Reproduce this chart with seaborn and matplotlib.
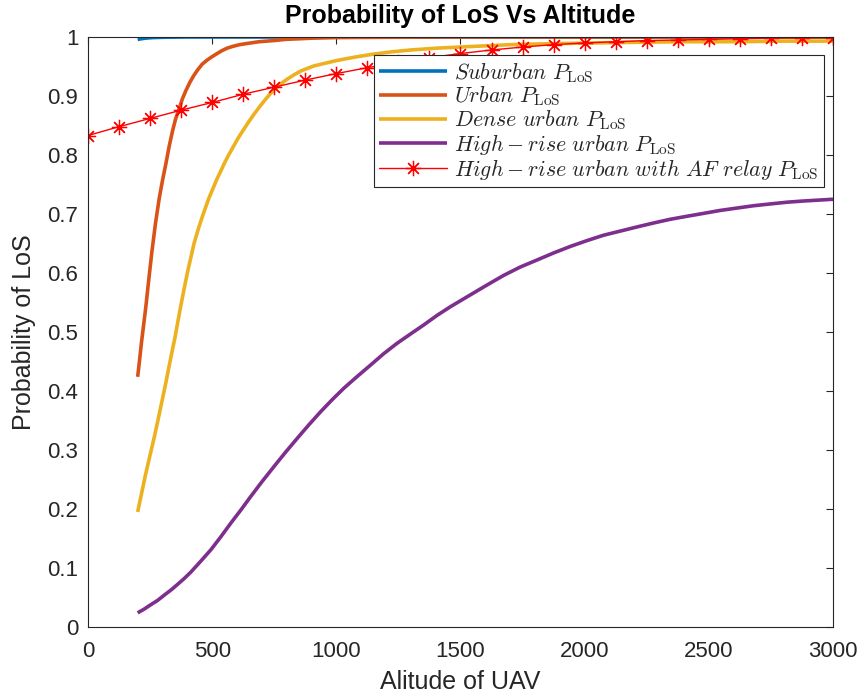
import numpy as np
import pandas as pd
import matplotlib
matplotlib.use("Agg")
import matplotlib.pyplot as plt
import seaborn as sns

# ---- data: altitude (m) vs probability of line-of-sight ----
suburban_alt = [200, 215, 230, 260, 300, 350, 400, 600, 1000, 3000]
suburban_p = [0.996, 0.997, 0.998, 0.999, 0.9995, 0.9998, 1.0, 1.0, 1.0, 1.0]

urban_alt = [200, 207, 215, 224, 233, 245, 257, 272, 287, 300, 314, 327, 340,
             352, 365, 380, 394, 410, 425, 441, 460, 480, 501, 520, 540, 560,
             582, 610, 640, 689, 750, 796, 850, 900, 1000, 1200, 1500, 3000]
urban_p = [0.424, 0.450, 0.481, 0.512, 0.543, 0.590, 0.635, 0.685, 0.727, 0.757,
           0.786, 0.815, 0.840, 0.860, 0.876, 0.895, 0.909, 0.923, 0.934, 0.944,
           0.954, 0.961, 0.967, 0.972, 0.977, 0.981, 0.984, 0.987, 0.989, 0.992,
           0.994, 0.996, 0.997, 0.998, 0.999, 0.9995, 1.0, 1.0]

dense_alt = [200, 215, 230, 248, 267, 283, 300, 314, 327, 340, 350, 362, 374,
             387, 400, 414, 427, 443, 460, 475, 488, 505, 520, 535, 548, 565,
             585, 605, 622, 645, 670, 695, 716, 747, 775, 800, 830, 860, 910,
             960, 1000, 1075, 1150, 1225, 1300, 1400, 1500, 1600, 1700, 1800,
             1900, 2050, 2200, 2400, 2600, 2800, 3000]
dense_p = [0.195, 0.225, 0.255, 0.288, 0.322, 0.353, 0.387, 0.415, 0.443, 0.470,
           0.490, 0.518, 0.545, 0.573, 0.600, 0.626, 0.650, 0.673, 0.695, 0.713,
           0.728, 0.745, 0.760, 0.773, 0.785, 0.799, 0.814, 0.829, 0.840, 0.855,
           0.870, 0.884, 0.895, 0.910, 0.920, 0.928, 0.936, 0.943, 0.951, 0.956,
           0.960, 0.966, 0.971, 0.975, 0.978, 0.981, 0.983, 0.985, 0.987, 0.988,
           0.989, 0.990, 0.991, 0.992, 0.992, 0.993, 0.993]

highrise_alt = [200, 225, 250, 280, 307, 335, 360, 387, 414, 455, 495, 535, 575,
                615, 655, 700, 749, 795, 843, 890, 937, 985, 1031, 1085, 1138,
                1190, 1245, 1300, 1352, 1405, 1460, 1540, 1600, 1674, 1740, 1808,
                1875, 1942, 2010, 2076, 2143, 2210, 2280, 2344, 2410, 2478, 2545,
                2612, 2680, 2746, 2815, 2880, 3000]
highrise_p = [0.024, 0.030, 0.037, 0.045, 0.054, 0.063, 0.072, 0.082, 0.093,
              0.112, 0.131, 0.153, 0.176, 0.198, 0.221, 0.246, 0.272, 0.296,
              0.320, 0.343, 0.365, 0.386, 0.405, 0.425, 0.444, 0.463, 0.481,
              0.497, 0.512, 0.528, 0.543, 0.563, 0.578, 0.596, 0.610, 0.622,
              0.634, 0.645, 0.655, 0.664, 0.671, 0.678, 0.685, 0.691, 0.696,
              0.701, 0.706, 0.710, 0.714, 0.717, 0.720, 0.722, 0.725]

relay_alt = [0, 125, 250, 375, 500, 625, 750, 875, 1000, 1125, 1250, 1375, 1500,
             1625, 1750, 1875, 2000, 2125, 2250, 2375, 2500, 2625, 2750, 2875, 3000]
relay_p = [0.833, 0.848, 0.862, 0.876, 0.889, 0.903, 0.915, 0.927, 0.938, 0.948,
           0.957, 0.965, 0.972, 0.978, 0.983, 0.987, 0.990, 0.992, 0.994, 0.995,
           0.996, 0.997, 0.998, 0.999, 0.999]

labels = [
    r"$Suburban\ P_{\mathrm{LoS}}$",
    r"$Urban\ P_{\mathrm{LoS}}$",
    r"$Dense\ urban\ P_{\mathrm{LoS}}$",
    r"$High-rise\ urban\ P_{\mathrm{LoS}}$",
    r"$High-rise\ urban\ with\ AF\ relay\ P_{\mathrm{LoS}}$",
]
colors = ["#0072BD", "#D95319", "#EDB120", "#7E2F8E", "#FF0000"]

sns.set_theme(style="white")
plt.rcParams["font.family"] = ["Liberation Sans", "DejaVu Sans"]
plt.rcParams["mathtext.fontset"] = "cm"

fig = plt.figure(figsize=(8.62, 7.0), dpi=100)
ax = fig.add_axes([88 / 862, 1 - 627 / 700, 745 / 862, 590 / 700])

series = [
    (suburban_alt, suburban_p),
    (urban_alt, urban_p),
    (dense_alt, dense_p),
    (highrise_alt, highrise_p),
]
for (xs, ys), lab, col in zip(series, labels[:4], colors[:4]):
    df = pd.DataFrame({"alt": xs, "p": ys})
    sns.lineplot(data=df, x="alt", y="p", ax=ax, color=col, linewidth=2.6,
                 label=lab, sort=False, estimator=None,
                 solid_capstyle="butt", solid_joinstyle="round")

relay_df = pd.DataFrame({"alt": relay_alt, "p": relay_p})
sns.lineplot(data=relay_df, x="alt", y="p", ax=ax, color=colors[4],
             linewidth=1.0, marker=(8, 2, 0), markersize=11,
             markeredgewidth=0.9, markeredgecolor=colors[4],
             label=labels[4], sort=False, estimator=None)

ax.set_xlim(0, 3000)
ax.set_ylim(0, 1)
ax.set_xticks(np.arange(0, 3001, 500))
ax.set_yticks(np.round(np.arange(0, 1.01, 0.1), 1))
ax.set_yticklabels(["0"] + [f"{v:.1f}" for v in np.arange(0.1, 0.95, 0.1)] + ["1"])

ax.tick_params(direction="in", length=5, width=0.8, top=True, right=True,
               labelsize=16, colors="#262626")
ax.tick_params(axis="x", pad=10)
ax.tick_params(axis="y", pad=7)
for sp in ax.spines.values():
    sp.set_visible(True)
    sp.set_color("#262626")
    sp.set_linewidth(0.8)

ax.set_title("Probability of LoS Vs Altitude", fontsize=18, fontweight="bold",
             color="black", pad=10)
ax.set_xlabel("Alitude of UAV", fontsize=18, color="#262626", labelpad=6)
ax.set_ylabel("Probability of LoS", fontsize=18, color="#262626", labelpad=8)

leg = ax.legend(loc="upper right", bbox_to_anchor=(0.988, 0.969),
                fontsize=15.8, frameon=True, fancybox=False, framealpha=1,
                edgecolor="#262626", handlelength=3.1, handletextpad=0.3,
                labelspacing=0.0, borderpad=0.25, borderaxespad=0)
leg.get_frame().set_linewidth(0.8)

fig.savefig("out.png", dpi=100, facecolor="white")
